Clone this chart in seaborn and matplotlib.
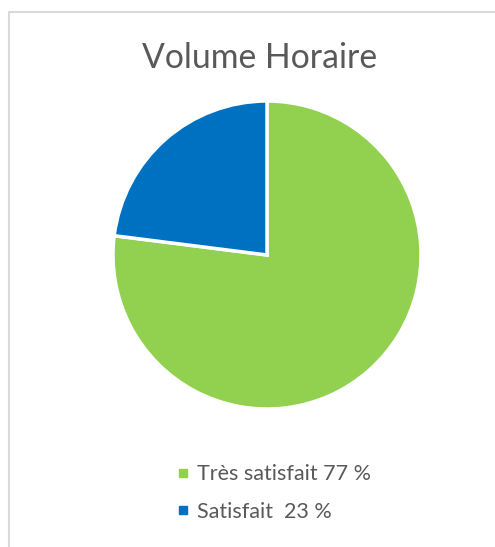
import matplotlib.pyplot as plt
from matplotlib.lines import Line2D
import seaborn as sns

# data
labels = ['Très satisfait 77 %', 'Satisfait  23 %']
values = [77, 23]
colors = ['#92D050', '#0070C0']

sns.set_theme(style='white')
plt.rcParams['font.family'] = ['Lato', 'DejaVu Sans']

W, H = 495, 547
fig = plt.figure(figsize=(W / 100, H / 100), dpi=100)

# light chart frame (left and top edges visible)
fig.add_artist(Line2D([9 / W, 9 / W], [0, 1 - 12 / H], color='#d9d9d9', lw=1.5, transform=fig.transFigure))
fig.add_artist(Line2D([9 / W, 1], [1 - 12 / H, 1 - 12 / H], color='#d9d9d9', lw=1.5, transform=fig.transFigure))

cx, cy, r = 267, 255, 154
ax = fig.add_axes([(cx - r) / W, (H - cy - r) / H, 2 * r / W, 2 * r / H])
wedges, _ = ax.pie(values, colors=colors, startangle=90, counterclock=False,
                   wedgeprops=dict(edgecolor='white', linewidth=2.5))
ax.set_xlim(-1, 1)
ax.set_ylim(-1, 1)
ax.set_aspect('equal')
ax.axis('off')

fig.text(260 / W, 1 - 58 / H, 'Volume Horaire', ha='center', va='center',
         fontsize=24.3, color='#595959')

handles = [Line2D([], [], marker='s', linestyle='', markersize=6, color=c) for c in colors]
leg = fig.legend(handles, labels, loc='center left', bbox_to_anchor=(166 / W, 1 - 493 / H),
                 frameon=False, fontsize=15.5, labelspacing=0.8, handlelength=0.6,
                 handletextpad=0.35, borderpad=0)
for t in leg.get_texts():
    t.set_color('#595959')

fig.savefig('out.png', dpi=100, facecolor='white')
